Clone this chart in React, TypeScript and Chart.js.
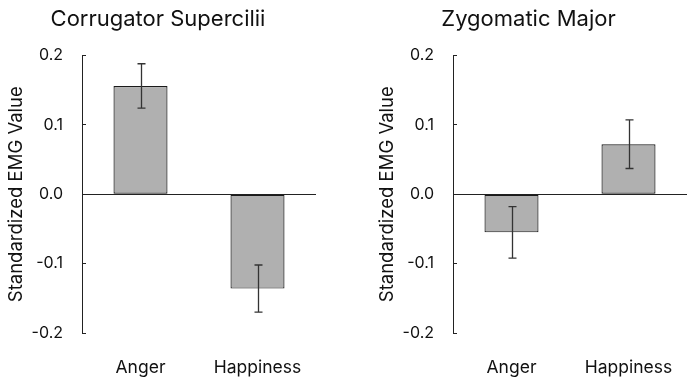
import React, { useEffect, useRef } from "react";
import { Chart, registerables } from "chart.js";

Chart.register(...registerables);

const categories = ["Anger", "Happiness"];
const corrugatorValues = [0.156, -0.136];
const corrugatorErrors = [0.032, 0.034];
const zygomaticValues = [-0.055, 0.072];
const zygomaticErrors = [0.037, 0.035];
const yTickMin = -0.2;
const yTickMax = 0.2;
const yTickStep = 0.1;
const yAxisTitle = "Standardized EMG Value";
const titles = ["Corrugator Supercilii", "Zygomatic Major"];

const FONT = "Inter, 'Liberation Sans', Arial, sans-serif";

const errorBarPlugin = {
  id: "errorBars",
  afterDatasetsDraw(chart: any) {
    const ctx = chart.ctx;
    const yScale = chart.scales.y;
    chart.data.datasets.forEach((ds: any, di: number) => {
      const meta = chart.getDatasetMeta(di);
      const errs: number[] = ds.errors || [];
      meta.data.forEach((el: any, i: number) => {
        const v = ds.data[i];
        const e = errs[i];
        const x = Math.round(el.x) + 0.5;
        const yTop = yScale.getPixelForValue(v + e);
        const yBot = yScale.getPixelForValue(v - e);
        ctx.save();
        ctx.strokeStyle = "#333";
        ctx.lineWidth = 1.3;
        ctx.beginPath();
        ctx.moveTo(x, yTop);
        ctx.lineTo(x, yBot);
        ctx.moveTo(x - 4, yTop);
        ctx.lineTo(x + 4, yTop);
        ctx.moveTo(x - 4, yBot);
        ctx.lineTo(x + 4, yBot);
        ctx.stroke();
        ctx.restore();
      });
    });
  },
};

type PanelProps = {
  title: string;
  values: number[];
  errors: number[];
  left: number;
  width: number;
  yWidth: number;
  rightPad: number;
  yTitlePad: number;
};

function Panel({ title, values, errors, left, width, yWidth, rightPad, yTitlePad }: PanelProps) {
  const ref = useRef<HTMLCanvasElement | null>(null);
  useEffect(() => {
    if (!ref.current) return;
    const chart = new Chart(ref.current, {
      type: "bar",
      data: {
        labels: categories,
        datasets: [
          {
            data: values,
            errors: errors,
            backgroundColor: "#b0b0b0",
            borderColor: "#1a1a1a",
            borderWidth: 1.2,
            borderSkipped: false,
            barPercentage: 0.462,
            categoryPercentage: 1,
          } as any,
        ],
      },
      options: {
        animation: false,
        responsive: false,
        maintainAspectRatio: false,
        layout: { padding: { left: 0, right: rightPad, top: 0, bottom: 0 } },
        plugins: {
          legend: { display: false },
          tooltip: { enabled: false },
          title: {
            display: true,
            text: title,
            color: "#111",
            font: { family: FONT, size: 22, weight: "normal" as any, lineHeight: 1.2 },
            padding: { top: 6, bottom: 23 },
          },
        },
        scales: {
          x: {
            grid: { display: false },
            border: { display: false },
            ticks: {
              color: "#111",
              font: { family: FONT, size: 17.5 },
              padding: 16,
            },
            afterFit(scale: any) {
              scale.height = 44;
            },
          },
          y: {
            min: yTickMin,
            max: yTickMax,
            border: { display: true, color: "#222", width: 1 },
            grid: {
              drawTicks: true,
              tickLength: -4,
              tickColor: "#222",
              color: (c: any) => (c.tick && Math.abs(c.tick.value) < 1e-9 ? "#222" : "rgba(0,0,0,0)"),
              lineWidth: 1,
            },
            ticks: {
              stepSize: yTickStep,
              color: "#111",
              font: { family: FONT, size: 16 },
              padding: 23,
              callback: (v: any) => Number(v).toFixed(1),
            },
            title: {
              display: true,
              text: yAxisTitle,
              color: "#111",
              font: { family: FONT, size: 18.5 },
              padding: { top: yTitlePad, bottom: 0 },
            },
            afterFit(scale: any) {
              scale.width = yWidth;
            },
          },
        },
      },
      plugins: [errorBarPlugin],
    });
    return () => chart.destroy();
  }, []);
  return (
    <div style={{ position: "absolute", left, top: 0, width, height: 377 }}>
      <canvas ref={ref} width={width} height={377} style={{ display: "block" }} />
    </div>
  );
}

export default function App() {
  return (
    <div style={{ position: "absolute", left: 0, top: 0, width: 700, height: 377, background: "#fff" }}>
      <Panel title={titles[0]} values={corrugatorValues} errors={corrugatorErrors} left={0} width={326} yWidth={82} rightPad={10} yTitlePad={5} />
      <Panel title={titles[1]} values={zygomaticValues} errors={zygomaticErrors} left={370} width={329} yWidth={83} rightPad={12} yTitlePad={6.5} />
    </div>
  );
}
